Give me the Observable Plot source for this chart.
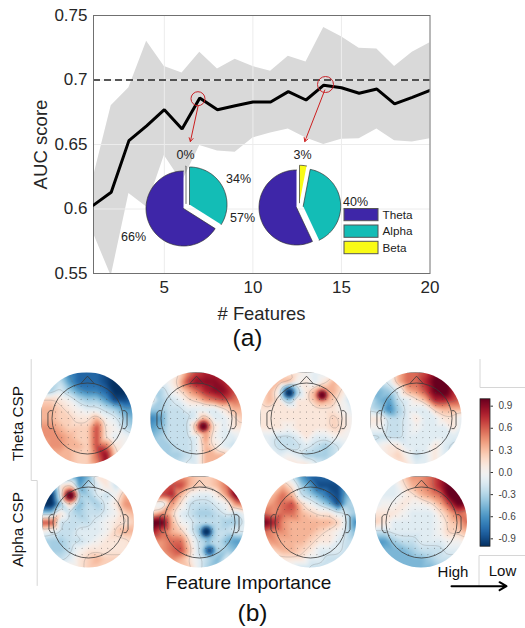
<!DOCTYPE html>
<html><head><meta charset="utf-8">
<style>
html,body{margin:0;padding:0;background:#fff}
#page{position:relative;width:525px;height:628px;overflow:hidden;font-family:"Liberation Sans",Arial,sans-serif}
#page svg{position:absolute;display:block;background:transparent}
</style>
<script src="https://cdn.jsdelivr.net/npm/d3@7"></script>
<script src="https://cdn.jsdelivr.net/npm/@observablehq/plot@0.6"></script>
</head><body><div id="page"></div>
<script>
const features=d3.range(1,21);
const aucMean=[.603,.613,.653,.6645,.677,.662,.686,.677,.680,.683,.683,.691,.6845,.696,.694,.6897,.693,.6815,.6866,.692];
const aucUpper=[.625,.680,.694,.730,.7105,.7055,.7215,.7085,.716,.7105,.7067,.7185,.714,.7407,.7335,.7247,.724,.7105,.7215,.7288];
const aucLower=[.581,.548,.612,.6015,.6415,.621,.6492,.645,.644,.655,.659,.662,.655,.650,.654,.6545,.662,.653,.652,.6545];
const bands=["Theta","Alpha","Beta"];
const bandColors=["#3E26A8","#13BDB6","#F9FB15"];
const pieA={Beta:0,Alpha:34,Theta:66};
const pieB={Beta:3,Alpha:40,Theta:57};

// Topographic maps: values ×10 on an 11×11 scalp grid, rows from front to back
const map1=[[-2,-2,-4,-6,-7,-7,-7,-8,-8,-8,-8],[-2,-2,-2,-5,-7,-7,-7,-8,-9,-8,-8],[-3,-3,-1,-3,-5,-6,-6,-7,-9,-9,-8],[2,2,1,0,-2,-3,-3,-5,-8,-8,-7],[3,3,2,1,0,-1,-1,-2,-3,-5,-5],[3,3,2,2,1,1,3,0,-1,-3,-4],[4,4,3,2,2,2,6,1,0,-2,-3],[4,4,4,3,2,2,6,1,-1,0,-1],[3,4,4,3,3,2,6,5,1,0,0],[3,3,3,3,2,2,5,8,2,0,0],[2,2,3,3,2,2,4,8,4,1,1]];
const map2=[[0,0,0,1,4,6,7,7,6,6,6],[0,0,0,2,6,8,8,8,7,6,6],[-2,-3,-1,1,3,5,7,8,8,6,5],[1,-3,-2,-1,1,2,4,5,6,5,4],[-3,-3,-2,-2,-1,-1,-1,-1,1,3,3],[-6,-5,-2,-2,-2,-1,1,-1,-1,1,2],[-5,-4,-2,-2,-2,-1,7,1,-1,1,1],[-4,-3,-2,-2,-2,-1,4,0,-1,-1,0],[-3,-3,-3,-2,-2,-1,3,1,-1,-2,-2],[-3,-3,-3,-3,-2,-1,3,3,3,-1,-1],[-2,-2,-2,-2,-1,-1,3,3,2,0,0]];
const map3=[[0,0,0,1,1,0,-1,-1,1,1,1],[0,1,3,3,0,1,-1,1,3,3,0],[1,3,0,-8,-1,1,1,1,3,1,-2],[1,3,1,-1,1,1,1,2,2,0,-3],[1,1,1,1,1,1,1,1,1,0,-1],[1,1,1,1,1,1,1,1,2,1,0],[1,1,1,0,1,1,1,1,2,1,0],[-1,-1,-2,-2,-1,1,-1,-1,0,0,0],[0,-1,-2,-2,-2,-1,-2,-3,-2,-1,-1],[0,0,-1,0,-1,-3,-3,-3,-2,-1,-1],[0,0,0,1,1,1,-1,-2,-1,-1,-1]];
const map4=[[-2,-2,-1,3,5,5,6,8,9,9,9],[-2,-2,-1,3,5,5,7,9,10,8,7],[-4,-4,-3,-1,3,4,6,9,10,7,6],[-2,-4,-5,-2,-1,1,3,7,7,6,5],[-2,-3,-6,-3,-1,-1,-1,2,3,3,3],[1,1,-2,-2,-1,1,-1,-1,1,1,-1],[0,0,-2,-2,-1,0,-1,-1,-1,1,-1],[-2,-2,-2,-2,-1,-1,-1,-1,-1,-1,-1],[-1,0,1,1,-1,-1,-1,1,-1,-2,-2],[0,0,1,2,0,-2,-1,1,-1,-2,-2],[0,0,0,1,1,-1,-1,1,1,-1,-1]];
const map5=[[-5,-5,-4,-4,-6,-4,1,1,0,0,0],[-6,-6,1,2,-5,-2,-1,1,-2,1,1],[-9,-9,0,7,-3,-3,-1,-2,0,3,3],[-10,-10,-3,-7,-4,-2,-3,-1,1,4,4],[-3,-3,1,-2,-3,-2,-2,-1,0,2,3],[6,6,-2,-2,-2,-2,-1,0,1,1,2],[0,-1,-2,-2,-1,-1,-1,0,2,3,3],[-3,-3,-3,-2,-2,-1,0,1,1,1,2],[-2,-3,-3,-2,0,1,1,1,1,1,1],[-1,-1,-2,-1,1,2,3,2,2,2,2],[0,0,0,1,1,2,2,2,2,2,2]];
const map6=[[4,4,4,4,3,2,2,3,4,6,6],[5,5,6,6,3,2,2,3,5,7,7],[6,6,7,3,0,-1,-1,1,4,9,9],[0,-1,4,1,-2,-2,-2,-1,0,4,5],[2,4,2,-1,-2,-3,-3,-2,-1,-2,0],[10,9,3,0,-1,-2,-2,-2,-3,-3,-1],[7,5,3,2,-1,-2,-7,-2,-2,-1,-1],[4,4,5,5,1,-2,-5,-2,-4,-5,-5],[3,4,5,6,2,-2,-6,-5,-3,-4,-5],[2,3,4,3,1,-1,-4,-4,-1,-1,-2],[1,1,2,2,2,-1,-3,-3,-2,0,0]];
const map7=[[0,0,1,-2,-5,-7,-7,-7,-6,-6,-6],[0,1,3,1,-3,-5,-8,-8,-8,-5,-5],[2,3,5,3,-2,-3,-5,-7,-8,-4,-3],[3,4,5,6,2,0,-2,-4,-8,-3,-2],[5,4,5,5,3,2,1,1,-1,-2,-3],[9,7,4,3,3,3,3,3,2,-2,-6],[5,4,4,3,3,3,2,1,0,-2,-4],[3,4,3,3,3,2,1,1,-1,-2,-2],[2,2,3,3,2,1,-1,-1,-1,-2,-2],[1,1,1,1,1,-1,-1,-2,-2,-2,-2],[0,0,-1,-1,-2,-2,-2,-1,-1,-1,-1]];
const map8=[[-1,-1,-1,2,4,4,5,7,8,9,9],[-1,-1,-1,1,3,4,5,7,9,9,9],[-1,-1,-1,0,1,3,4,5,9,10,10],[-1,0,0,1,0,0,1,3,6,9,8],[1,1,1,0,-1,-1,-1,1,3,5,4],[2,1,-1,-1,-1,-1,-1,0,2,3,5],[-2,-2,-1,-1,-1,-1,-1,0,2,2,3],[-5,-5,-3,-2,-2,-1,-1,-1,0,0,1],[-5,-4,-4,-4,-3,-2,-2,-2,-1,-1,-1],[-4,-4,-4,-4,-4,-4,-3,-2,-2,-2,-2],[-4,-4,-4,-4,-4,-4,-4,-3,-2,-2,-2]];
const peaks1=[], peaks4=[], peaks7=[], peaks8=[];
const peaks2=[[.15,-.17,10.5]];
const peaks3=[[-.38,.56,-10.5],[.34,.51,10.5]];
const peaks5=[[-.40,.59,11]];
const peaks6=[[.15,-.2,-11],[.22,-.61,-8.5]];
const gridAxis=[-1,-.8,-.6,-.4,-.2,0,.2,.4,.6,.8,1];
const sensorAxis=[-.7,-.56,-.42,-.28,-.14,0,.14,.28,.42,.56,.7];
const headNose=[[-.14,.765],[0,.92],[.14,.765]];
const headEarL=[[-.77,.17],[-.82,.17],[-.86,.12],[-.86,-.15],[-.82,-.22],[-.77,-.22]];
const headEarR=headEarL.map(([x,y])=>[-x,y]);
const colorbarTicks=[-.9,-.6,-.3,0,.3,.6,.9];
const contourLevels=[-.55,-.15,.15,.55];

const ink="#262626";
const page=document.getElementById("page");
function place(svg,left,top){svg.style.left=left+"px";svg.style.top=top+"px";page.appendChild(svg);}
const fmt=d=>String(d);

// Panel (a): AUC chart
const rows=features.map((f,i)=>({f,m:aucMean[i],u:aucUpper[i],l:aucLower[i]}));
place(Plot.plot({
  width:525,height:628,marginLeft:93,marginRight:95.5,marginTop:15,marginBottom:355,
  style:{fontFamily:'"Liberation Sans",Arial,sans-serif',background:"transparent"},
  x:{domain:[1,20]},y:{domain:[.55,.75]},
  marks:[
    Plot.areaY(rows,{x:"f",y1:"l",y2:"u",fill:"#d9d9d9",clip:true}),
    Plot.gridX([5,10,15],{stroke:"#ececec",strokeOpacity:1}),
    Plot.gridY([.6,.65,.7],{stroke:"#ececec",strokeOpacity:1}),
    Plot.ruleY([.7],{stroke:"#222",strokeWidth:1.3,strokeDasharray:"7,4"}),
    Plot.frame({stroke:"#707070"}),
    Plot.lineY(rows,{x:"f",y:"m",stroke:"#000",strokeWidth:3,strokeLinejoin:"miter",clip:true}),
    Plot.dot([[6.9,.6855]],{x:"0",y:"1",r:7,stroke:"#c8242a",fill:"none",strokeWidth:1}),
    Plot.dot([[14.1,.6965]],{x:"0",y:"1",r:8,stroke:"#c8242a",fill:"none",strokeWidth:1}),
    Plot.arrow([[6.91,.680,6.47,.6523],[14.06,.6922,12.93,.6523]],{x1:"0",y1:"1",x2:"2",y2:"3",stroke:"#cc1f1f",strokeWidth:1,headLength:6}),
    Plot.axisX({ticks:[5,10,15,20],tickFormat:fmt,tickSize:0,tickPadding:7,fontSize:17,fill:ink,label:null}),
    Plot.axisY({ticks:[.55,.6,.65,.7,.75],tickFormat:fmt,tickSize:0,tickPadding:6,fontSize:17,fill:ink,label:null})
  ]
}),0,0);

// Pie slices as polygons through the shared colour scale
function slices(values,id,cx,cy,r,off){
  const arcs=d3.pie().sort(null).value(d=>d[1])(Object.entries(values));
  const out=[];
  for(const a of arcs){
    const band=a.data[0],[dx,dy]=off[band],n=Math.max(2,Math.ceil((a.endAngle-a.startAngle)*30));
    out.push({k:id+band,band,x:cx+dx,y:cy+dy});
    for(let i=0;i<=n;i++){const t=a.startAngle+(a.endAngle-a.startAngle)*i/n;
      out.push({k:id+band,band,x:cx+dx+r*Math.sin(t),y:cy+dy-r*Math.cos(t)});}
  }
  return out;
}
const pieSlices=[...slices(pieA,"a",183,208,37.5,{Theta:[0,0],Alpha:[6,-4],Beta:[2.5,-5]}),
                 ...slices(pieB,"b",296,207,37.5,{Theta:[0,0],Alpha:[6.7,-1.3],Beta:[3,-4.7]})];
const pieLabels=[["0%",185,154],["34%",238,178],["57%",242,217],["66%",133,236],["3%",302,154],["40%",355,201]];
const legendRows=[["Theta",208.5,220.7],["Alpha",225,237.3],["Beta",241.3,253.7]];
const panelText=[["(a)",247,338],["(b)",252,613]];
const rotText=[["Theta CSP",18,423],["Alpha CSP",18,529]];
const paleLines=[[[30.7,359],[30.7,480],[36.7,480],[36.7,585]],[[479.5,359],[479.5,387],[525,387]],[[525,555],[478.5,555],[478.5,585]]];

place(Plot.plot({
  width:525,height:628,margin:0,
  style:{fontFamily:'"Liberation Sans",Arial,sans-serif',background:"transparent"},
  x:{domain:[0,525],range:[0,525],axis:null},y:{domain:[0,628],range:[0,628],axis:null},
  color:{domain:bands,range:bandColors},
  marks:[
    Plot.line(pieSlices,{x:"x",y:"y",z:"k",fill:"band",stroke:"#333",strokeWidth:.7}),
    Plot.text(pieLabels,{x:"1",y:"2",text:"0",fontSize:12.5,fill:"#222"}),
    Plot.rect(legendRows,{x1:344,x2:378,y1:"1",y2:"2",fill:"0",stroke:"#555",strokeWidth:1}),
    Plot.text(legendRows,{x:382,y:d=>(d[1]+d[2])/2,text:"0",textAnchor:"start",fontSize:11.7,fill:"#222"}),
    Plot.text(["# Features"],{x:261,y:314,fontSize:18.4,fill:ink}),
    Plot.text(["AUC score"],{x:41,y:144,rotate:-90,fontSize:18.6,fill:ink}),
    Plot.text(panelText,{x:"1",y:"2",text:"0",fontSize:24.5,fill:"#111"}),
    Plot.text(["Feature Importance"],{x:248,y:582.5,fontSize:19,fill:"#111"}),
    Plot.text(["High"],{x:452.5,y:572,fontSize:15,fill:"#111"}),
    Plot.text(["Low"],{x:502,y:570.5,fontSize:15,fill:"#111"}),
    Plot.text(rotText,{x:"1",y:"2",text:"0",rotate:-90,fontSize:15.3,fill:"#111"}),
    ...paleLines.map(l=>Plot.line(l,{x:"0",y:"1",stroke:"#d6d6d6",strokeWidth:1})),
    Plot.arrow([[451,585.7,506,585.7]],{x1:"0",y1:"1",x2:"2",y2:"3",stroke:"#000",strokeWidth:2,headLength:6})
  ]
}),0,0);

// Panel (b): scalp maps
const sensors=d3.cross(sensorAxis,sensorAxis).filter(([x,y])=>Math.hypot(x,y)<.76);
const ringAngles=[0,1,2,3,4,5,6,7];
function topo(grid,peaks){
  const pts=[];
  const nearPeak=(x,y)=>peaks.some(([px,py])=>Math.hypot(x-px,y-py)<.2);
  grid.forEach((row,j)=>row.forEach((v,i)=>{
    const x=gridAxis[i],y=-gridAxis[j];
    if(!nearPeak(x,y)) pts.push({x,y,v:v/10});
  }));
  peaks.forEach(([x,y,v])=>{
    pts.push({x,y,v:v/10});
    ringAngles.forEach(a=>{
      const t=a*Math.PI/4;
      pts.push({x:x+.07*Math.cos(t),y:y+.07*Math.sin(t),v:.8*v/10});
      pts.push({x:x+.16*Math.cos(t),y:y+.16*Math.sin(t),v:.3*v/10});
    });
  });
  return Plot.plot({
    width:92,height:92,margin:0,
    style:{clipPath:"circle(50%)",background:"transparent"},
    x:{domain:[-1,1],axis:null},y:{domain:[-1,1],axis:null},
    color:{type:"linear",scheme:"RdBu",reverse:true,domain:[-.88,.88]},
    marks:[
      Plot.raster(pts,{x:"x",y:"y",fill:"v",interpolate:"barycentric",blur:1,x1:-1,x2:1,y1:-1,y2:1,pixelSize:1}),
      Plot.contour(pts,{x:"x",y:"y",value:"v",interpolate:"barycentric",blur:1,thresholds:contourLevels,stroke:"#777",strokeOpacity:.55,strokeWidth:.5,fill:"none",x1:-1,x2:1,y1:-1,y2:1}),
      Plot.dot(sensors,{x:"0",y:"1",r:.45,fill:"#444",stroke:"none"}),
      Plot.dot([[0,0]],{x:"0",y:"1",r:35.5,stroke:"#3a3a3a",strokeWidth:.8,fill:"none"}),
      Plot.line(headNose,{x:"0",y:"1",stroke:"#3a3a3a",strokeWidth:.8}),
      Plot.line(headEarL,{x:"0",y:"1",stroke:"#3a3a3a",strokeWidth:.8}),
      Plot.line(headEarR,{x:"0",y:"1",stroke:"#3a3a3a",strokeWidth:.8})
    ]
  });
}
[[map1,peaks1,40.5,372],[map2,peaks2,150,372],[map3,peaks3,260,372],[map4,peaks4,369.5,372],
 [map5,peaks5,42,475.5],[map6,peaks6,152.5,475.5],[map7,peaks7,264,475.5],[map8,peaks8,375,475.5]]
 .forEach(([g,p,l,t])=>place(topo(g,p),l,t));

// Colour bar
place(Plot.plot({
  width:55,height:167,marginLeft:9.5,marginRight:35.5,marginTop:8.3,marginBottom:11.3,
  style:{fontFamily:'"Liberation Sans",Arial,sans-serif',background:"transparent"},
  x:{domain:[0,1],axis:null},y:{domain:[-1,1]},
  color:{type:"linear",scheme:"RdBu",reverse:true,domain:[-1,1]},
  marks:[
    Plot.raster({x1:0,x2:1,y1:-1,y2:1,fill:(x,y)=>y,pixelSize:1}),
    Plot.frame({stroke:"#222",strokeWidth:.8}),
    Plot.axisY({anchor:"right",ticks:colorbarTicks,tickFormat:d=>d.toFixed(1),tickSize:2.5,tickPadding:6,fontSize:10,fill:"#444",stroke:"#333",label:null})
  ]
}),470,390);
</script></body></html>
